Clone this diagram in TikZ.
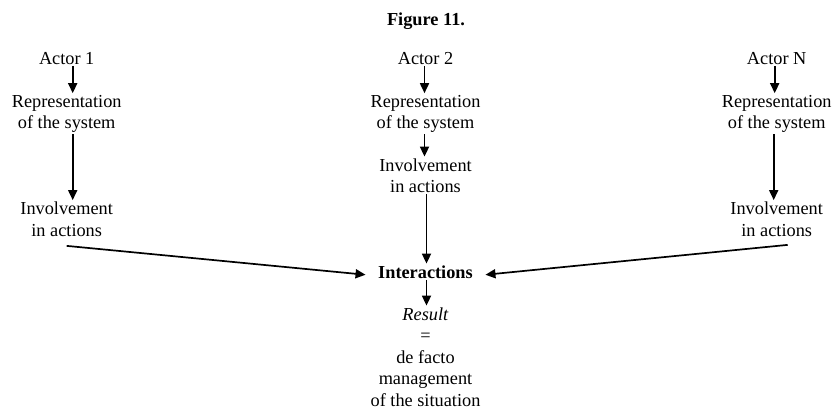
\documentclass[tikz,border=0pt]{standalone}
\usepackage{fontspec}
\setmainfont{Liberation Serif}
\usetikzlibrary{arrows.meta}
\begin{document}
\begin{tikzpicture}[x=1pt,y=-1pt,
  lbl/.style={font=\fontsize{18.3}{21.5}\selectfont, align=center, inner sep=1.5pt, anchor=base},
  boldlbl/.style={lbl, font=\fontsize{18.3}{21.5}\selectfont\bfseries},
  flow/.style={-{Triangle[width=9pt,length=10pt]}, line width=1.7pt},
]
\useasboundingbox (0,0) rectangle (836,410);

% heading
\node[boldlbl] (title) at (426,25) {Figure 11.};

% first actor (positions give the baseline of the last line)
\node[lbl] (a1) at (66.7,64) {Actor 1};
\node[lbl] (r1) at (66.7,128.5) {Representation\\of the system};
\node[lbl] (i1) at (66.7,236) {Involvement\\in actions};

% second actor
\node[lbl] (a2) at (425.5,64) {Actor 2};
\node[lbl] (r2) at (425.5,128.5) {Representation\\of the system};
\node[lbl] (i2) at (425.5,192.5) {Involvement\\in actions};

% last actor
\node[lbl] (aN) at (776.7,64) {Actor N};
\node[lbl] (rN) at (776.7,128.5) {Representation\\of the system};
\node[lbl] (iN) at (776.7,236) {Involvement\\in actions};

% meeting point and outcome
\node[boldlbl] (inter) at (425.5,278) {Interactions};
\node[lbl] (res) at (425.5,406) {\textit{Result}\\=\\de facto\\management\\of the situation};

% vertical chains
\draw[flow] ([xshift=6]a1.south) -- ([xshift=6]r1.north);
\draw[flow] ([xshift=6]r1.south) -- ([xshift=6]i1.north);
\draw[flow] ([xshift=-1]a2.south) -- ([xshift=-1]r2.north);
\draw[flow] ([xshift=-1]r2.south) -- ([xshift=-1]i2.north);
\draw[flow] ([xshift=1]i2.south) -- ([xshift=1]inter.north);
\draw[flow] ([xshift=1]inter.south) -- ([xshift=1]res.north);
\draw[flow] ([xshift=-2]aN.south) -- ([xshift=-2]rN.north);
\draw[flow] ([xshift=-3]rN.south) -- ([xshift=-3]iN.north);

% converging arrows
\draw[flow] ([yshift=-8]i1.south) -- ([xshift=-11,yshift=-3]inter.west);
\draw[flow] ([xshift=11,yshift=-7]iN.south) -- ([xshift=11,yshift=-3]inter.east);
\end{tikzpicture}
\end{document}
